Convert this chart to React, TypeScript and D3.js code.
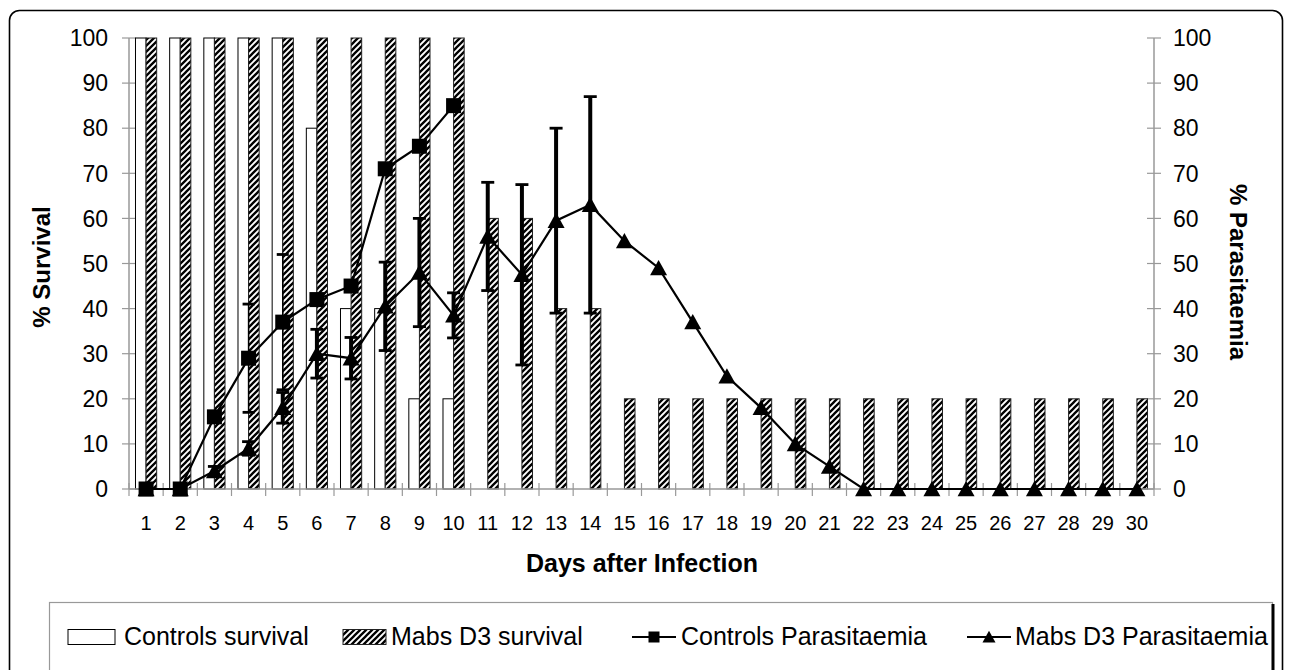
import React from 'react';
import * as d3 from 'd3';

const days = ['1', '2', '3', '4', '5', '6', '7', '8', '9', '10', '11', '12', '13', '14', '15',
  '16', '17', '18', '19', '20', '21', '22', '23', '24', '25', '26', '27', '28', '29', '30'];

const controlsSurvival = [100, 100, 100, 100, 100, 80, 40, 40, 20, 20, 0, 0, 0, 0, 0,
  0, 0, 0, 0, 0, 0, 0, 0, 0, 0, 0, 0, 0, 0, 0];
const mabsSurvival = [100, 100, 100, 100, 100, 100, 100, 100, 100, 100, 60, 60, 40, 40, 20,
  20, 20, 20, 20, 20, 20, 20, 20, 20, 20, 20, 20, 20, 20, 20];

// controls only measured until day 10
const controlsParasitaemia = [0, 0, 16, 29, 37, 42, 45, 71, 76, 85];
const controlsError = [0, 0, 0, 12, 15, 0, 0, 0, 0, 0];

const mabsParasitaemia = [0, 0, 4, 9, 18, 30, 29, 40.5, 48, 38.5, 56, 47.5, 59.5, 63, 55,
  49, 37, 25, 18, 10, 5, 0, 0, 0, 0, 0, 0, 0, 0, 0];
const mabsError = [0, 0, 1, 1.5, 3.4, 5.4, 4.6, 9.8, 12, 5, 12, 20, 20.5, 24, 0,
  0, 0, 0, 0, 0, 0, 0, 0, 0, 0, 0, 0, 0, 0, 0];

const yTicks = [0, 10, 20, 30, 40, 50, 60, 70, 80, 90, 100];

const legendItems = [
  { label: 'Controls survival', kind: 'white', x: 68, tx: 124 },
  { label: 'Mabs D3 survival', kind: 'hatch', x: 343, tx: 391 },
  { label: 'Controls Parasitaemia', kind: 'square', x: 632, tx: 681 },
  { label: 'Mabs D3 Parasitaemia', kind: 'triangle', x: 967, tx: 1015 },
];

const W = 1292;
const H = 670;
const FONT = 'Arial, "Liberation Sans", Helvetica, sans-serif';
const AXIS = '#999';

const App = () => {
  const x = d3.scaleBand<string>().domain(days).range([129, 1154]).padding(0);
  const y = d3.scaleLinear().domain([0, 100]).range([489, 38]);
  const bw = x.bandwidth();
  const barW = bw * 0.31;
  const cx = (d: string) => (x(d) as number) + bw / 2;

  const line = d3.line<number>()
    .x((_, i) => cx(days[i]))
    .y(v => y(v));

  const tri = (s: number) => `M0,${-s * 0.95} L${s},${s * 0.85} L${-s},${s * 0.85} Z`;

  const errBar = (d: string, v: number, e: number, sw: number, cw: number, key: string) => (
    <g key={key} stroke="#000">
      <line x1={cx(d)} x2={cx(d)} y1={y(v + e)} y2={y(v - e)} strokeWidth={sw} />
      <line x1={cx(d) - cw / 2} x2={cx(d) + cw / 2} y1={y(v + e)} y2={y(v + e)} strokeWidth={2.8} />
      <line x1={cx(d) - cw / 2} x2={cx(d) + cw / 2} y1={y(v - e)} y2={y(v - e)} strokeWidth={2.8} />
    </g>
  );

  const boundaries = days.map(d => x(d) as number).concat([x.range()[1]]);

  return (
    <svg width={W} height={H} style={{ position: 'absolute', left: 0, top: 0, background: '#fff' }}
      fontFamily={FONT}>
      <defs>
        <pattern id="hatch" patternUnits="userSpaceOnUse" width="6" height="6">
          <rect width="6" height="6" fill="#fff" />
          <path d="M-1.5,1.5 l3,-3 M0,6 l6,-6 M4.5,7.5 l3,-3" stroke="#000" strokeWidth="2.3" />
        </pattern>
      </defs>

      {/* outer frame */}
      <rect x={9.5} y={10.5} width={1273} height={720} rx={10} fill="none" stroke="#000" strokeWidth={1.6} />

      {/* axes */}
      <line x1={129} x2={129} y1={y(100)} y2={y(0)} stroke={AXIS} strokeWidth={1.5} />
      <line x1={1154} x2={1154} y1={y(100)} y2={y(0)} stroke={AXIS} strokeWidth={1.5} />
      {yTicks.map(t => (
        <g key={'yt' + t}>
          <line x1={122} x2={136} y1={y(t)} y2={y(t)} stroke={AXIS} strokeWidth={1.2} />
          <line x1={1147} x2={1161} y1={y(t)} y2={y(t)} stroke={AXIS} strokeWidth={1.2} />
          <text x={108} y={y(t)} dy="0.36em" textAnchor="end" fontSize={23}>{t}</text>
          <text x={1173} y={y(t)} dy="0.36em" textAnchor="start" fontSize={23}>{t}</text>
        </g>
      ))}

      {/* survival bars */}
      {days.map((d, i) => controlsSurvival[i] > 0 && (
        <rect key={'cs' + d} x={cx(d) - barW} y={y(controlsSurvival[i])} width={barW}
          height={y(0) - y(controlsSurvival[i])} fill="#fff" stroke="#000" strokeWidth={1} />
      ))}
      {days.map((d, i) => mabsSurvival[i] > 0 && (
        <rect key={'ms' + d} x={cx(d)} y={y(mabsSurvival[i])} width={barW}
          height={y(0) - y(mabsSurvival[i])} fill="url(#hatch)" stroke="#222" strokeWidth={1} />
      ))}

      {/* x axis on top of bars */}
      <line x1={129} x2={1154} y1={y(0)} y2={y(0)} stroke={AXIS} strokeWidth={1.5} />
      {boundaries.map((b, i) => (
        <line key={'xt' + i} x1={b} x2={b} y1={y(0) - 6} y2={y(0) + 7} stroke={AXIS} strokeWidth={1.2} />
      ))}
      {days.map(d => (
        <text key={'xl' + d} x={cx(d)} y={530} textAnchor="middle" fontSize={20}>{d}</text>
      ))}

      {/* error bars */}
      {controlsParasitaemia.map((v, i) => controlsError[i] > 0 &&
        errBar(days[i], v, controlsError[i], 1.5, 12, 'ce' + i))}
      {mabsParasitaemia.map((v, i) => mabsError[i] > 0 &&
        errBar(days[i], v, mabsError[i], 4, 13, 'me' + i))}

      {/* parasitaemia lines */}
      <path d={line(controlsParasitaemia) as string} fill="none" stroke="#000" strokeWidth={2.2} />
      <path d={line(mabsParasitaemia) as string} fill="none" stroke="#000" strokeWidth={2.2} />
      {controlsParasitaemia.map((v, i) => (
        <rect key={'sq' + i} x={cx(days[i]) - 7.5} y={y(v) - 7.5} width={15} height={15} fill="#000" />
      ))}
      {mabsParasitaemia.map((v, i) => (
        <path key={'tr' + i} d={tri(8.5)} transform={`translate(${cx(days[i])},${y(v)})`} fill="#000" />
      ))}

      {/* axis titles */}
      <text transform="translate(50,267) rotate(-90)" textAnchor="middle" fontSize={24} fontWeight="bold">% Survival</text>
      <text transform="translate(1230,272) rotate(90)" textAnchor="middle" fontSize={24} fontWeight="bold">% Parasitaemia</text>
      <text x={642} y={572} textAnchor="middle" fontSize={25} fontWeight="bold">Days after Infection</text>

      {/* legend */}
      <rect x={49.5} y={602.5} width={1223} height={100} fill="#fff" stroke={AXIS} strokeWidth={1.2} />
      <line x1={1273} x2={1273} y1={604} y2={H} stroke="#000" strokeWidth={3} />
      {legendItems.map(it => (
        <g key={it.label}>
          {it.kind === 'white' && <rect x={it.x} y={629.5} width={47} height={15} fill="#fff" stroke="#000" strokeWidth={1} />}
          {it.kind === 'hatch' && <rect x={it.x} y={629.5} width={43} height={15} fill="url(#hatch)" stroke="#222" strokeWidth={1} />}
          {(it.kind === 'square' || it.kind === 'triangle') && (
            <g>
              <line x1={it.x} x2={it.x + 44} y1={637} y2={637} stroke="#000" strokeWidth={2.2} />
              {it.kind === 'square'
                ? <rect x={it.x + 22 - 5.5} y={637 - 5.5} width={11} height={11} fill="#000" />
                : <path d={tri(6.5)} transform={`translate(${it.x + 22},637)`} fill="#000" />}
            </g>
          )}
          <text x={it.tx} y={645} fontSize={25}>{it.label}</text>
        </g>
      ))}
    </svg>
  );
};

export default App;
